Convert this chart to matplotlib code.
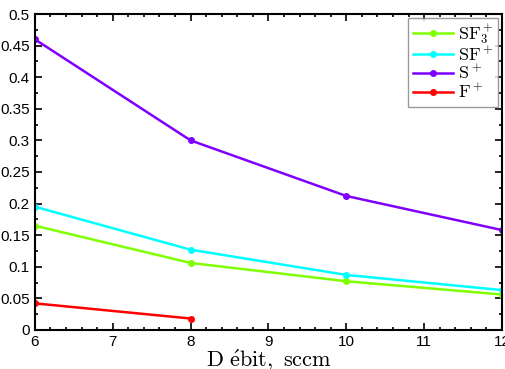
import matplotlib
matplotlib.use("Agg")
import matplotlib.pyplot as plt
from matplotlib.ticker import MultipleLocator, FuncFormatter

plt.rcParams['mathtext.fontset'] = 'cm'
plt.rcParams['font.family'] = ['Liberation Sans', 'DejaVu Sans']

debit = [6, 8, 10, 12]
sf3 = [0.165, 0.106, 0.077, 0.056]
sf = [0.195, 0.127, 0.087, 0.063]
s = [0.460, 0.300, 0.212, 0.158]
debit_f = [6, 8]
f = [0.042, 0.018]

labels = [r'$\mathrm{SF}_3^+$', r'$\mathrm{SF}^+$', r'$\mathrm{S}^+$', r'$\mathrm{F}^+$']
colors = ['#80ff00', '#00ffff', '#7f00ff', '#ff0000']

fig = plt.figure(figsize=(5.05, 3.69), dpi=100)
ax = fig.add_axes([0.069, 0.106, 0.925, 0.856])

ax.plot(debit, sf3, '-o', color=colors[0], lw=1.8, ms=4, label=labels[0])
ax.plot(debit, sf, '-o', color=colors[1], lw=1.8, ms=4, label=labels[1])
ax.plot(debit, s, '-o', color=colors[2], lw=1.8, ms=4, label=labels[2])
ax.plot(debit_f, f, '-o', color=colors[3], lw=1.8, ms=4, label=labels[3])

ax.set_xlim(6, 12)
ax.set_ylim(0, 0.5)
ax.xaxis.set_major_locator(MultipleLocator(1))
ax.xaxis.set_minor_locator(MultipleLocator(0.2))
ax.yaxis.set_major_locator(MultipleLocator(0.05))
ax.yaxis.set_minor_locator(MultipleLocator(0.025))
ax.yaxis.set_major_formatter(FuncFormatter(lambda v, p: ('%.2f' % v).rstrip('0').rstrip('.') if abs(v) > 1e-9 else '0'))
ax.tick_params(which='both', direction='in', top=True, right=True, labelsize=11, width=1.2)
ax.tick_params(which='major', length=5)
ax.tick_params(which='minor', length=2.5)
for sp in ax.spines.values():
    sp.set_linewidth(1.5)

ax.set_xlabel(r'$\mathrm{D\ \acute{e}bit,\ sccm}$', fontsize=16, labelpad=-1)
ax.set_ylabel(r'$\mathrm{Courant,\ nA}$', fontsize=16, labelpad=0)

leg = ax.legend(loc='upper right', fontsize=13, frameon=True, fancybox=False,
                edgecolor='#808080', borderaxespad=0.2, handlelength=2.2,
                labelspacing=0.0, borderpad=0.25, handletextpad=0.3)
leg.get_frame().set_linewidth(1.0)

fig.savefig('out.png', dpi=100)
